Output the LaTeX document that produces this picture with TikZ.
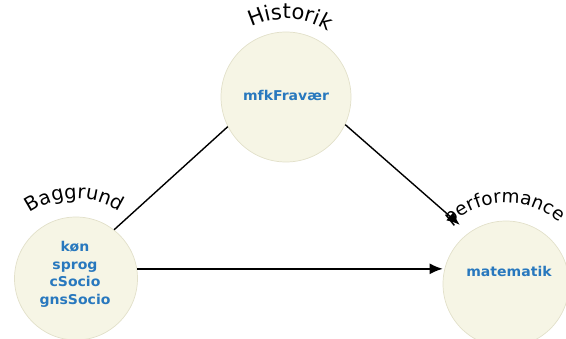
\documentclass[tikz,border=0pt]{standalone}
\usepackage{fontspec}
\usetikzlibrary{arrows.meta,decorations.text}
\newfontfamily\lblfont{DejaVu Sans}
\newfontfamily\innerfont[FakeStretch=1.04]{DejaVu Sans}
\definecolor{circfill}{RGB}{246,245,229}
\definecolor{circline}{RGB}{226,224,202}
\definecolor{innerblue}{RGB}{40,120,190}
\tikzset{
  bubble/.style={circle,fill=circfill,draw=circline,line width=0.7pt,inner sep=0pt},
  inner/.style={text=innerblue,align=center,inner sep=0pt,
    font={\innerfont\bfseries\fontsize{13.5}{17.5}\selectfont}},
  conn/.style={line width=1.4pt,black},
  tip/.style={-{Latex[length=13pt,width=11pt]}},
  arclabel/.style 2 args={decorate,decoration={text along path,text align=center,
    text={|\lblfont\fontsize{#2}{#2}\selectfont|#1}}}
}
\begin{document}
\begin{tikzpicture}[x=1pt,y=1pt]
\useasboundingbox (0,0) rectangle (566,338);
\node[bubble,minimum size=123pt] (B) at (76,59.5) {};
\node[bubble,minimum size=130pt] (H) at (286,241) {};
\node[bubble,minimum size=126pt] (P) at (506,54) {};
\node[inner] (Btext) at (75,63.5) {køn\\sprog\\cSocio\\gnsSocio};
\node[inner,anchor=base] (Htext) at (286,237.3) {mfkFravær};
\node[inner,anchor=base] (Ptext) at (509,61) {matematik};
\path[arclabel={Historik}{21}] ([shift={(177:78pt)}]H.center) arc[start angle=177,end angle=-3,radius=78pt];
\path[arclabel={Baggrund}{19.5}] ([shift={(181:80pt)}]B.center) arc[start angle=181,end angle=1,radius=80pt];
\path[arclabel={performance}{18.5}] ([shift={(181:81pt)}]P.center) arc[start angle=181,end angle=1,radius=81pt];
\draw[conn] (B.52) -- (H.207);
\draw[conn,tip,shorten >=12pt] (H.335) -- (P.126);
\draw[conn,tip] (B.9) -- (B.9 -| P.west);
\end{tikzpicture}
\end{document}
